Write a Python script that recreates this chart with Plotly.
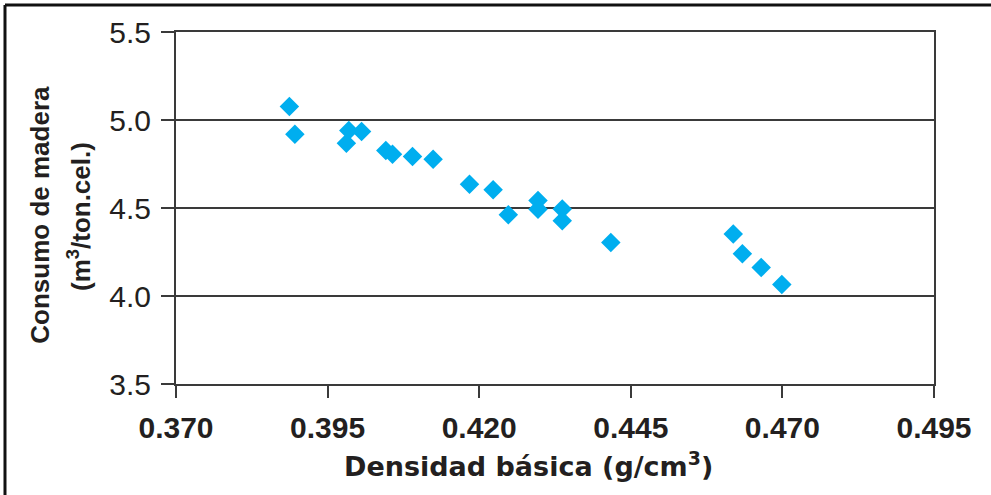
import plotly.graph_objects as go

densidad = [0.3887, 0.3896, 0.3985, 0.3981, 0.4006, 0.4046, 0.4057, 0.4090, 0.4124,
            0.4184, 0.4223, 0.4248, 0.4297, 0.4297, 0.4337, 0.4337, 0.4417,
            0.4619, 0.4634, 0.4665, 0.4699]
consumo = [5.076, 4.919, 4.940, 4.868, 4.934, 4.826, 4.806, 4.792, 4.777,
           4.635, 4.603, 4.461, 4.542, 4.493, 4.495, 4.427, 4.304,
           4.352, 4.240, 4.162, 4.065]

x_ticks = [0.370, 0.395, 0.420, 0.445, 0.470, 0.495]
x_ticklabels = ["0.370", "0.395", "0.420", "0.445", "0.470", "0.495"]
y_ticks = [3.5, 4.0, 4.5, 5.0, 5.5]
y_ticklabels = ["3.5", "4.0", "4.5", "5.0", "5.5"]

x_title = "Densidad básica (g/cm<sup>3</sup>)"
y_title_1 = "Consumo de madera"
y_title_2 = "(m<sup>3</sup>/ton.cel.)"

fig = go.Figure()
fig.add_trace(go.Scatter(
    x=densidad, y=consumo, mode="markers",
    marker=dict(symbol="diamond", size=15, color="#00AEEF", line=dict(width=0)),
    showlegend=False,
))

fig.update_layout(
    width=991, height=495,
    margin=dict(l=176, r=57, t=32, b=111),
    paper_bgcolor="white", plot_bgcolor="white",
    font=dict(family="Liberation Sans, Arial, sans-serif", color="#231f20"),
    xaxis=dict(
        range=[0.370, 0.495], tickvals=x_ticks, ticktext=x_ticklabels,
        showgrid=False, zeroline=False,
        showline=True, linecolor="#3a3a3a", linewidth=2, mirror=True,
        ticks="outside", ticklen=12, tickwidth=1.5, tickcolor="#3a3a3a",
        tickfont=dict(size=30, family="Liberation Sans, Arial", color="#231f20", weight="bold"),
        ticklabelstandoff=4,
    ),
    yaxis=dict(
        range=[3.5, 5.5], tickvals=y_ticks, ticktext=y_ticklabels,
        showgrid=True, gridcolor="#3a3a3a", gridwidth=1.5, zeroline=False,
        showline=True, linecolor="#3a3a3a", linewidth=2, mirror=True,
        ticks="outside", ticklen=13, tickwidth=1.5, tickcolor="#3a3a3a",
        tickfont=dict(size=30, family="Liberation Sans, Arial", color="#231f20"),
        ticklabelstandoff=4,
    ),
    annotations=[
        dict(text=x_title, xref="paper", yref="paper", x=0.4655, y=-0.228,
             xanchor="center", yanchor="middle", showarrow=False,
             font=dict(size=27, family="DejaVu Sans", color="#231f20", weight="bold")),
        dict(text=y_title_1, xref="paper", yref="paper", x=-0.1794, y=0.481,
             xanchor="center", yanchor="middle", showarrow=False, textangle=-90,
             font=dict(size=26, family="Liberation Sans, Arial", color="#231f20", weight="bold")),
        dict(text=y_title_2, xref="paper", yref="paper", x=-0.1265, y=0.475,
             xanchor="center", yanchor="middle", showarrow=False, textangle=-90,
             font=dict(size=26, family="Liberation Sans, Arial", color="#231f20", weight="bold")),
    ],
    shapes=[
        dict(type="line", xref="paper", yref="paper", x0=-0.2256, x1=1.1, y0=1.0767, y1=1.0767,
             line=dict(color="#111111", width=3)),
        dict(type="line", xref="paper", yref="paper", x0=-0.2256, x1=-0.2256, y0=1.0767, y1=-0.35,
             line=dict(color="#111111", width=3)),
    ],
)

fig.write_html("out.html", config={"displayModeBar": False},
               post_script="document.body.style.margin='0';")
